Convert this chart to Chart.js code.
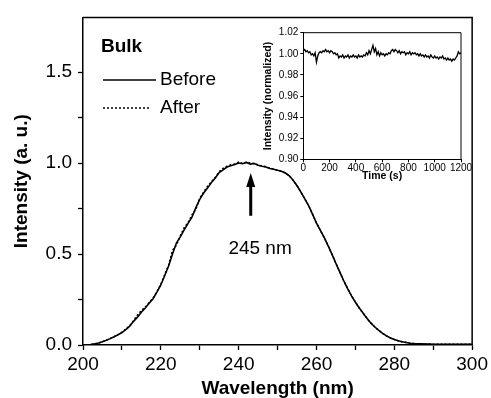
<!DOCTYPE html>
<html>
<head>
<meta charset="utf-8">
<script src="https://cdn.jsdelivr.net/npm/chart.js@4/dist/chart.umd.min.js"></script>
<style>
  html, body { margin: 0; padding: 0; background: #fff; }
  #wrap { position: relative; width: 491px; height: 398px; }
  #main { position: absolute; left: 0; top: 0; }
  #inset { position: absolute; left: 255px; top: 22px; }
</style>
</head>
<body>
<div id="wrap">
  <canvas id="main" width="491" height="398"></canvas>
  <canvas id="inset" width="225" height="165"></canvas>
</div>
<script>
const FONT = '"Liberation Sans", Arial, Helvetica, sans-serif';

// main spectrum, 200-300 nm at 1 nm
const wavelengths = [
  200,201,202,203,204,205,206,207,208,209,210,211,212,213,214,215,216,217,218,219,
  220,221,222,223,224,225,226,227,228,229,230,231,232,233,234,235,236,237,238,239,
  240,241,242,243,244,245,246,247,248,249,250,251,252,253,254,255,256,257,258,259,
  260,261,262,263,264,265,266,267,268,269,270,271,272,273,274,275,276,277,278,279,
  280,281,282,283,284,285,286,287,288,289,290,291,292,293,294,295,296,297,298,299,300
];
const before = [
  0.000,0.001,0.003,0.006,0.011,0.018,0.026,0.035,0.045,0.056,
  0.068,0.085,0.104,0.130,0.153,0.180,0.203,0.230,0.254,0.290,
  0.330,0.382,0.434,0.500,0.560,0.594,0.633,0.668,0.702,0.755,
  0.800,0.835,0.862,0.893,0.918,0.948,0.962,0.978,0.985,0.992,
  1.000,0.996,1.003,0.994,0.997,0.988,0.982,0.978,0.970,0.966,
  0.960,0.955,0.945,0.930,0.905,0.875,0.840,0.803,0.765,0.718,
  0.670,0.630,0.590,0.545,0.498,0.448,0.400,0.353,0.310,0.270,
  0.235,0.203,0.174,0.146,0.120,0.099,0.080,0.064,0.050,0.039,
  0.030,0.023,0.018,0.014,0.010,0.008,0.007,0.006,0.005,0.005,
  0.004,0.004,0.004,0.004,0.004,0.004,0.004,0.004,0.004,0.004,0.004
];
const after = [
  0.000,0.001,0.003,0.006,0.011,0.018,0.027,0.036,0.046,0.057,
  0.070,0.087,0.106,0.134,0.165,0.190,0.208,0.233,0.258,0.293,
  0.334,0.386,0.440,0.520,0.548,0.600,0.645,0.672,0.715,0.745,
  0.806,0.840,0.872,0.897,0.922,0.952,0.970,0.982,0.990,0.995,
  1.005,0.998,1.004,1.000,0.997,0.990,0.984,0.979,0.972,0.966,
  0.960,0.955,0.945,0.930,0.905,0.875,0.840,0.803,0.765,0.718,
  0.670,0.630,0.590,0.545,0.498,0.448,0.400,0.353,0.310,0.270,
  0.235,0.203,0.174,0.146,0.120,0.099,0.080,0.064,0.050,0.039,
  0.030,0.023,0.018,0.014,0.010,0.008,0.007,0.006,0.005,0.005,
  0.004,0.004,0.004,0.004,0.004,0.004,0.004,0.004,0.004,0.004,0.004
];
const seriesLabels = ['Before', 'After'];
const legendTitle = 'Bulk';
const peakLabel = '245 nm';
const peakArrow = { x: 243.1, yTip: 0.945, yBase: 0.71 };
const peakText = { x: 245.5, y: 0.53 };

// inset: stability over time
const times = [
  0,10,20,30,40,50,60,70,80,90,100,110,120,130,140,150,160,170,180,190,
  200,210,220,230,240,250,260,270,280,290,300,310,320,330,340,350,360,370,380,390,
  400,410,420,430,440,450,460,470,480,490,500,510,520,530,540,550,560,570,580,590,
  600,610,620,630,640,650,660,670,680,690,700,710,720,730,740,750,760,770,780,790,
  800,810,820,830,840,850,860,870,880,890,900,910,920,930,940,950,960,970,980,990,
  1000,1010,1020,1030,1040,1050,1060,1070,1080,1090,1100,1110,1120,1130,1140,1150,1160,1170,1180,1190,1200
];
const normIntensity = [
  1.003,1.004,1.002,1.003,1.001,1.002,0.999,1.000,0.998,1.001,
  0.992,0.998,1.001,1.002,1.001,1.003,1.002,1.004,1.002,1.003,
  1.001,1.003,1.002,1.000,1.001,0.999,1.000,0.996,0.998,0.997,
  0.999,0.996,0.998,0.997,0.999,0.996,0.998,0.997,0.999,0.997,
  0.998,0.996,0.999,0.997,0.998,0.997,0.999,0.998,1.001,0.999,
  1.003,1.000,1.004,1.008,1.002,1.005,0.999,1.002,0.998,1.001,
  0.999,1.000,0.998,1.000,0.999,1.001,1.000,1.003,1.004,1.002,
  1.004,1.003,1.001,1.003,1.000,1.002,1.001,1.002,0.999,1.001,
  1.000,1.002,0.999,1.001,1.000,1.001,0.999,1.000,0.998,1.000,
  0.998,0.999,0.997,0.999,0.997,0.998,0.996,0.999,0.997,0.996,
  0.998,0.996,0.997,0.995,0.997,0.996,0.998,0.995,0.996,0.994,
  0.996,0.994,0.995,0.993,0.995,0.994,0.996,0.998,1.002,1.000,1.001
];

Chart.defaults.font.family = FONT;
Chart.defaults.color = '#000';

const annotations = {
  id: 'annotations',
  afterDraw(chart) {
    const { ctx, chartArea: a, scales: { x, y } } = chart;
    ctx.save();
    ctx.strokeStyle = '#000';
    ctx.fillStyle = '#000';
    // top and right of frame
    ctx.lineWidth = 1.5;
    ctx.beginPath();
    ctx.moveTo(a.left, a.top);
    ctx.lineTo(a.right, a.top);
    ctx.lineTo(a.right, a.bottom);
    ctx.stroke();

    // legend
    ctx.textBaseline = 'middle';
    ctx.textAlign = 'left';
    ctx.font = 'bold 19px ' + FONT;
    ctx.fillText(legendTitle, 101, 47);
    ctx.font = '19px ' + FONT;
    chart.data.datasets.forEach((ds, i) => {
      const ly = 80 + i * 28;
      ctx.setLineDash(ds.borderDash || []);
      ctx.lineWidth = ds.borderWidth;
      ctx.beginPath();
      ctx.moveTo(103, ly);
      ctx.lineTo(i ? 151 : 156, ly);
      ctx.stroke();
      ctx.setLineDash([]);
      ctx.fillText(ds.label, 160, ly);
    });

    // arrow to the peak
    const px = x.getPixelForValue(peakArrow.x);
    const tip = y.getPixelForValue(peakArrow.yTip);
    const base = y.getPixelForValue(peakArrow.yBase);
    ctx.lineWidth = 3;
    ctx.beginPath();
    ctx.moveTo(px, base);
    ctx.lineTo(px, tip + 10);
    ctx.stroke();
    ctx.beginPath();
    ctx.moveTo(px, tip);
    ctx.lineTo(px - 4.5, tip + 14);
    ctx.lineTo(px + 4.5, tip + 14);
    ctx.closePath();
    ctx.fill();

    ctx.textAlign = 'center';
    ctx.fillText(peakLabel, x.getPixelForValue(peakText.x), y.getPixelForValue(peakText.y));
    ctx.restore();
  }
};

const insetFrame = {
  id: 'insetFrame',
  afterDraw(chart) {
    const { ctx, chartArea: a } = chart;
    ctx.save();
    ctx.strokeStyle = '#000';
    ctx.lineWidth = 1;
    ctx.beginPath();
    ctx.moveTo(a.left, a.top);
    ctx.lineTo(a.right, a.top);
    ctx.lineTo(a.right, a.bottom);
    ctx.stroke();
    ctx.restore();
  }
};

const onStep = (v, step) => Math.abs(v / step - Math.round(v / step)) < 1e-6;

new Chart(document.getElementById('main'), {
  type: 'line',
  data: {
    datasets: [
      {
        label: seriesLabels[0],
        data: wavelengths.map((w, i) => ({ x: w, y: before[i] })),
        borderColor: '#000',
        borderWidth: 1.6,
        pointRadius: 0,
        tension: 0
      },
      {
        label: seriesLabels[1],
        data: wavelengths.map((w, i) => ({ x: w, y: after[i] })),
        borderColor: '#000',
        borderWidth: 1.5,
        borderDash: [2, 2],
        pointRadius: 0,
        tension: 0
      }
    ]
  },
  options: {
    responsive: false,
    animation: false,
    layout: { autoPadding: false, padding: { left: 0, top: 16, right: 15, bottom: 0 } },
    plugins: { legend: { display: false }, tooltip: { enabled: false } },
    scales: {
      x: {
        type: 'linear',
        min: 200,
        max: 300,
        afterFit: s => { s.height = 53; },
        ticks: {
          stepSize: 10,
          autoSkip: false,
          maxRotation: 0,
          padding: 3,
          font: { size: 19 },
          callback: v => (onStep(v, 20) ? String(v) : '')
        },
        grid: { drawOnChartArea: false, tickLength: 5, tickColor: '#000', tickWidth: 1.3 },
        border: { color: '#000', width: 1.5 },
        title: {
          display: true,
          text: 'Wavelength (nm)',
          font: { size: 19, weight: 'bold', lineHeight: 1 },
          padding: { top: 0, bottom: 0 }
        }
      },
      y: {
        min: 0,
        max: 1.8,
        afterFit: s => { s.width = 83; },
        afterBuildTicks: s => { s.ticks = s.ticks.filter(t => onStep(t.value, 0.25)); },
        ticks: {
          stepSize: 0.25,
          padding: 6,
          font: { size: 19 },
          callback: v => (onStep(v, 0.5) ? v.toFixed(1) : '')
        },
        grid: { drawOnChartArea: false, tickLength: 5, tickColor: '#000', tickWidth: 1.3 },
        border: { color: '#000', width: 1.5 },
        title: {
          display: true,
          text: 'Intensity (a. u.)',
          font: { size: 19, weight: 'bold', lineHeight: 1 },
          padding: { top: 12, bottom: 0 }
        }
      }
    }
  },
  plugins: [annotations]
});

new Chart(document.getElementById('inset'), {
  type: 'line',
  data: {
    datasets: [{
      data: times.map((t, i) => ({ x: t, y: normIntensity[i] })),
      borderColor: '#000',
      borderWidth: 1.3,
      pointRadius: 0,
      tension: 0
    }]
  },
  options: {
    responsive: false,
    animation: false,
    layout: { autoPadding: false, padding: { left: 0, top: 10.7, right: 19, bottom: 0 } },
    plugins: { legend: { display: false }, tooltip: { enabled: false } },
    scales: {
      x: {
        type: 'linear',
        min: 0,
        max: 1200,
        afterFit: s => { s.height = 27.7; },
        ticks: {
          stepSize: 200,
          autoSkip: false,
          maxRotation: 0,
          padding: 0,
          font: { size: 10 },
          callback: v => String(v)
        },
        grid: { drawOnChartArea: false, tickLength: 3, tickColor: '#000' },
        border: { color: '#000', width: 1 },
        title: {
          display: true,
          text: 'Time (s)',
          font: { size: 10.5, weight: 'bold', lineHeight: 1 },
          padding: { top: 0, bottom: 6 }
        }
      },
      y: {
        min: 0.90,
        max: 1.02,
        afterFit: s => { s.width = 48.3; },
        ticks: { stepSize: 0.02, padding: 2, font: { size: 10 }, callback: v => v.toFixed(2) },
        grid: { drawOnChartArea: false, tickLength: 3, tickColor: '#000' },
        border: { color: '#000', width: 1 },
        title: {
          display: true,
          text: 'Intensity (normalized)',
          font: { size: 10.5, weight: 'bold', lineHeight: 1 },
          padding: { top: 8, bottom: 0 }
        }
      }
    }
  },
  plugins: [insetFrame]
});
</script>
</body>
</html>
